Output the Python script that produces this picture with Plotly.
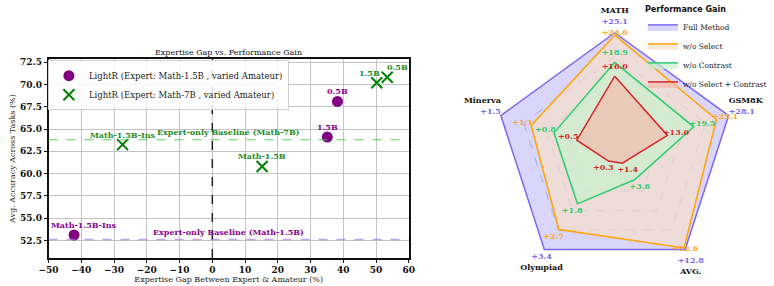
import plotly.graph_objects as go

# ---------------- Left chart data ----------------
series1_name = "LightR (Expert: Math-1.5B , varied Amateur)"
series1_x = [-42.2, 35.1, 38.2]
series1_y = [53.1, 64.1, 68.1]
series1_labels = ["Math-1.5B-Ins", "1.5B", "0.5B"]

series2_name = "LightR (Expert: Math-7B , varied Amateur)"
series2_x = [-27.4, 15.2, 50.2, 53.4]
series2_y = [63.25, 60.8, 70.2, 70.83]
series2_labels = ["Math-1.5B-Ins", "Math-1.5B", "1.5B", "0.5B"]

baseline_7b = 63.8
baseline_15b = 52.6
baseline_7b_label = "Expert-only Baseline (Math-7B)"
baseline_15b_label = "Expert-only Baseline (Math-1.5B)"

x_ticks = [-50, -40, -30, -20, -10, 0, 10, 20, 30, 40, 50, 60]
y_ticks = [52.5, 55.0, 57.5, 60.0, 62.5, 65.0, 67.5, 70.0, 72.5]

# ---------------- Radar data ----------------
radar_axes = ["MATH", "GSM8K", "AVG.", "Olympiad", "Minerva"]
full_method = [25.1, 28.1, 12.8, 3.4, 1.5]
wo_select = [24.6, 25.1, 12.6, 2.7, 1.1]
wo_contrast = [18.9, 19.5, 3.6, 1.8, 0.8]
wo_both = [16.0, 13.0, 1.4, 0.3, 0.5]
radar_names = ["Full Method", "w/o Select", "w/o Contrast", "w/o Select + Contrast"]
radar_grid = [0.2, 0.4, 0.6, 0.8]

SERIF = "DejaVu Serif"
fig = go.Figure()

# ---------- left scatter ----------
fig.add_trace(go.Scatter(
    x=series1_x, y=series1_y, mode="markers", name=series1_name,
    marker=dict(symbol="circle", size=11, color="#800080"),
    legend="legend", xaxis="x", yaxis="y"))
fig.add_trace(go.Scatter(
    x=series2_x, y=series2_y, mode="markers", name=series2_name,
    marker=dict(symbol="x-thin", size=11, color="#008000",
                line=dict(width=2, color="#008000")),
    legend="legend", xaxis="x", yaxis="y"))

shapes = [
    dict(type="line", xref="x", yref="paper", x0=0, x1=0, y0=0.099, y1=0.798,
         line=dict(color="#222", width=1.5, dash="dash")),
    dict(type="line", xref="paper", yref="y", x0=0.0508, x1=0.5262,
         y0=baseline_7b, y1=baseline_7b,
         line=dict(color="rgba(60,200,60,0.85)", width=1.2, dash="dash")),
    dict(type="line", xref="paper", yref="y", x0=0.0508, x1=0.5262,
         y0=baseline_15b, y1=baseline_15b,
         line=dict(color="rgba(160,120,220,0.65)", width=1.5, dash="dash")),
]

annotations = []
lab_font = lambda c: dict(family=SERIF, size=8, color=c, weight="bold")
s1_shift = [10, 0, 0]
for x, y, t, dx in zip(series1_x, series1_y, series1_labels, s1_shift):
    annotations.append(dict(x=x, y=y, xref="x", yref="y", text=t, showarrow=False,
                            xshift=dx, yshift=10, font=lab_font("#8b008b")))
s2_shift = [0, 0, -7, 10]
for x, y, t, dx in zip(series2_x, series2_y, series2_labels, s2_shift):
    annotations.append(dict(x=x, y=y, xref="x", yref="y", text=t, showarrow=False,
                            xshift=dx, yshift=10, font=lab_font("#1e8c1e")))
annotations.append(dict(x=5, y=baseline_7b, xref="x", yref="y", text=baseline_7b_label,
                        showarrow=False, yshift=8, font=lab_font("#1e8c1e")))
annotations.append(dict(x=5, y=baseline_15b, xref="x", yref="y", text=baseline_15b_label,
                        showarrow=False, yshift=7, font=lab_font("#8b008b")))
annotations.append(dict(x=0.2885, y=(286 - 51) / 286, xref="paper", yref="paper",
                        xanchor="center", yanchor="middle",
                        text="Expertise Gap vs. Performance Gain", showarrow=False,
                        font=dict(family=SERIF, size=8, color="#111")))

# ---------- radar ----------
R_MAX = 1.08  # radial range a bit beyond the outer vertex, room for labels
series = [full_method, wo_select, wo_contrast, wo_both]
line_cols = ["#7b68ee", "#ffa500", "#2ecc71", "#d62728"]
fill_cols = ["rgba(179,171,247,0.5)", "rgba(246,222,201,0.7)",
             "rgba(201,239,206,0.7)", "rgba(242,186,172,0.7)"]
text_cols = ["#7b68ee", "#ffa726", "#2ecc71", "#d62728"]
for name, vals, lc, fc in zip(radar_names, series, line_cols, fill_cols):
    r = [v / m for v, m in zip(vals, full_method)]
    fig.add_trace(go.Scatterpolar(
        r=r + r[:1], theta=radar_axes + radar_axes[:1], mode="lines", fill="toself",
        fillcolor=fc, line=dict(color=lc, width=1.5), name=name,
        legend="legend2", subplot="polar"))

# value labels of the reduced variants (just outside each vertex)
for vals, tc in zip(series[1:], text_cols[1:]):
    r = [min(v / m + 0.075, 1.0) for v, m in zip(vals, full_method)]
    fig.add_trace(go.Scatterpolar(
        r=r, theta=radar_axes, mode="text", text=[f"+{v:.1f}" for v in vals],
        textfont=dict(family=SERIF, size=8, color=tc, weight="bold"),
        showlegend=False, cliponaxis=False, subplot="polar", hoverinfo="skip"))

# axis names together with the full-method values, outside the outer vertices
full_txt = [f"<span style='color:{text_cols[0]}'>+{v:.1f}</span>" for v in full_method]
outer_text = [
    f"{radar_axes[0]}<br>{full_txt[0]}",
    f"{radar_axes[1]}<br>{full_txt[1]}",
    f"{full_txt[2]}<br>{radar_axes[2]}",
    f"{full_txt[3]}<br>{radar_axes[3]}",
    f"{radar_axes[4]}<br>{full_txt[4]}",
]
outer_pos = ["top center", "top right", "bottom center", "bottom center", "top left"]
fig.add_trace(go.Scatterpolar(
    r=[1.06, 1.0, 1.08, 1.04, 1.0], theta=radar_axes, mode="text", text=outer_text,
    textposition=outer_pos,
    textfont=dict(family=SERIF, size=8, color="#111", weight="bold"),
    showlegend=False, cliponaxis=False, subplot="polar", hoverinfo="skip"))

axis_common = dict(showgrid=True, gridcolor="#c4c4c4", gridwidth=1.2,
                   showline=True, linecolor="#111", linewidth=1.5, mirror=True,
                   ticks="outside", ticklen=3, tickcolor="#111", zeroline=False,
                   tickfont=dict(family=SERIF, size=9, color="#111", weight="bold"))

# polar square centred on (617.5, 151.6) px, outer vertex radius 122.3 px
half = 122.3 * R_MAX
cx, cy = 617.5, 151.6
fig.update_layout(
    width=774, height=286, margin=dict(l=0, r=0, t=0, b=0),
    paper_bgcolor="white", plot_bgcolor="white",
    shapes=shapes, annotations=annotations,
    xaxis=dict(domain=[0.0508, 0.5262], range=[-50, 60], tickvals=x_ticks,
               title=dict(text="Expertise Gap Between Expert & Amateur (%)",
                          font=dict(family=SERIF, size=8, color="#222"), standoff=2),
               **axis_common),
    yaxis=dict(domain=[0.099, 0.798], range=[50.53, 72.83], tickvals=y_ticks,
               tickformat=".1f",
               title=dict(text="Avg. Accuracy Across Tasks (%)",
                          font=dict(family=SERIF, size=8, color="#222"), standoff=3),
               **axis_common),
    polar=dict(domain=dict(x=[(cx - half) / 774, (cx + half) / 774],
                           y=[(286 - cy - half) / 286, (286 - cy + half) / 286]),
               gridshape="linear", bgcolor="rgba(0,0,0,0)",
               radialaxis=dict(range=[0, R_MAX], tickvals=radar_grid, showticklabels=False,
                               showline=False, ticks="", gridcolor="#aaaaaa",
                               griddash="dash", gridwidth=1, layer="above traces"),
               angularaxis=dict(rotation=90, direction="clockwise", showticklabels=False,
                                showline=False, showgrid=False, ticks="")),
    legend=dict(x=0.05, y=0.795, xanchor="left", yanchor="top",
                bgcolor="rgba(255,255,255,0.85)", bordercolor="#d0d0d0", borderwidth=1,
                font=dict(family=SERIF, size=8.5, color="#222"),
                tracegroupgap=0, itemwidth=30),
    legend2=dict(x=0.835, y=1.0, xanchor="left", yanchor="top",
                 bgcolor="rgba(255,255,255,0)",
                 title=dict(text="Performance Gain",
                            font=dict(family="DejaVu Sans", size=8, color="#111", weight="bold")),
                 font=dict(family=SERIF, size=7.5, color="#222"), itemwidth=30,
                 tracegroupgap=0),
    showlegend=True,
)

fig.write_html("out.html")
